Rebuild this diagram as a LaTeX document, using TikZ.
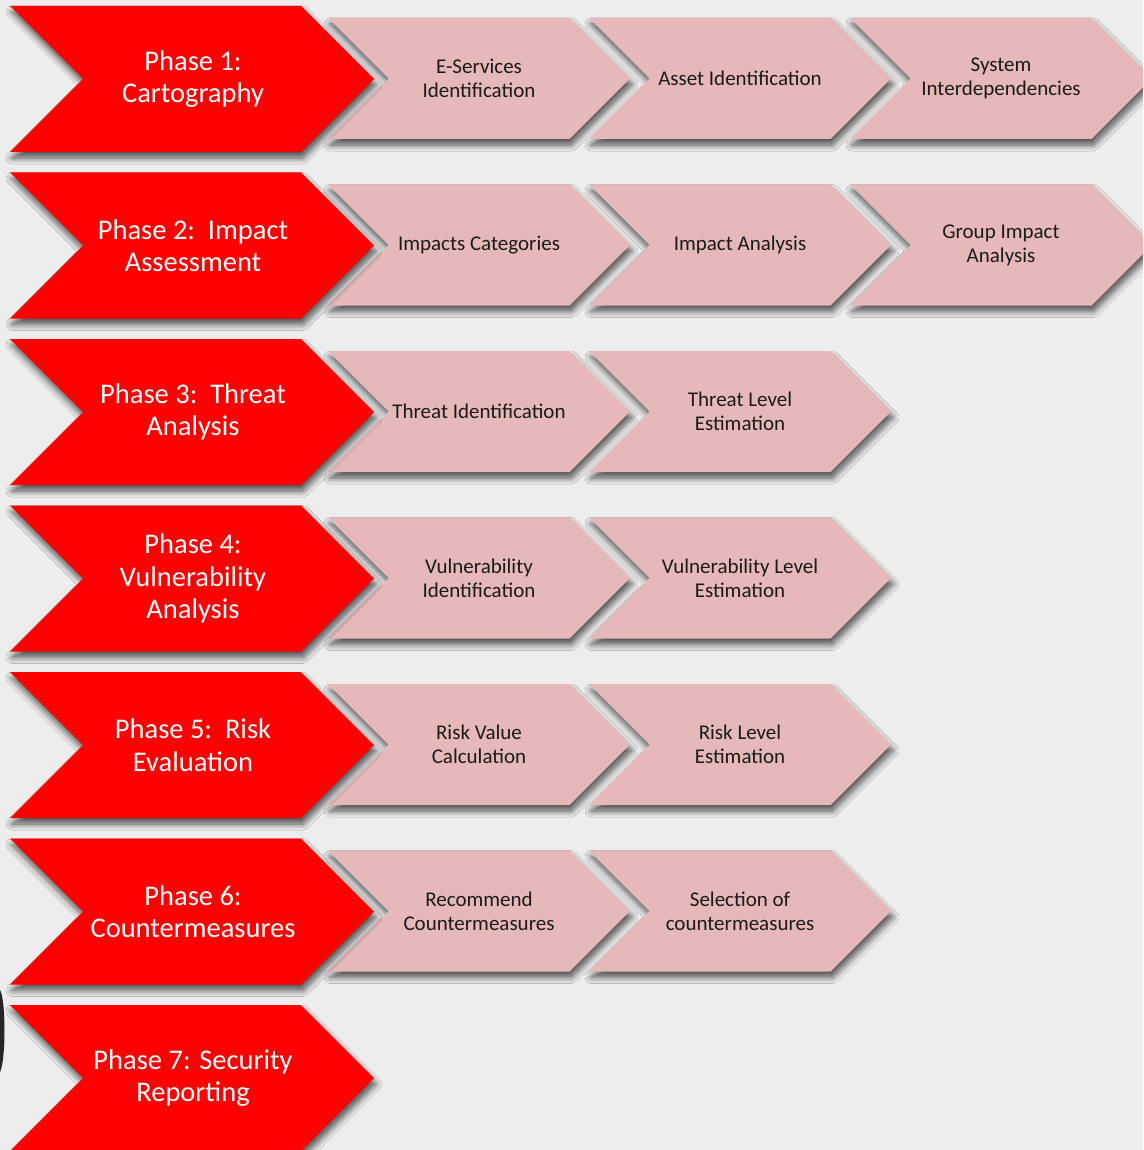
\documentclass[tikz,border=0pt]{standalone}
\usepackage{fontspec}
\setmainfont{Carlito}
\usetikzlibrary{shadows.blur}
\definecolor{bg}{HTML}{EDEDED}
\definecolor{phasered}{HTML}{FF0000}
\definecolor{steppink}{HTML}{E6B9B8}
\definecolor{steptext}{HTML}{1A1A1A}
\tikzset{
  myshadow/.style={blur shadow={shadow xshift=2pt, shadow yshift=-6pt, shadow blur radius=6pt, shadow blur steps=8, shadow opacity=65}},
  phaseshape/.style={fill=phasered, myshadow},
  pinkshape/.style={fill=steppink, myshadow},
  phasetext/.style={text=white, font=\fontsize{28.5}{32.5}\selectfont, align=center, inner sep=0pt},
  steplabel/.style={text=steptext, font=\fontsize{21}{24}\selectfont, align=center, inner sep=0pt},
}
\newcommand\chevpath[4]{(#1,#2) -- ++(#3-#4/2,0) -- ++(#4/2,#4/2) -- ++(-#4/2,#4/2) -- ++(-#3+#4/2,0) -- ++(#4/2,-#4/2) -- cycle}
\begin{document}
\begin{tikzpicture}[x=1pt,y=-1pt]
\useasboundingbox (0,0) rectangle (1143,1150);
\clip (0,0) rectangle (1143,1150);
\fill[bg] (0,0) rectangle (1143,1150);
\fill[black!85] (0,990) .. controls (6,1000) and (6,1060) .. (0,1072) -- cycle;
\foreach \r/\n in {6/0,5/2,4/2,3/2,2/2,1/3,0/3} {
  \pgfmathsetmacro\T{6+166.5*\r}
  \ifnum\n>0
    \foreach \k in {\n,...,1} {
      \pgfmathsetmacro\X{328+261*(\k-1)}
      \path[pinkshape] \chevpath{\X}{\T+12}{302}{121};
    }
  \fi
  \path[phaseshape] \chevpath{10}{\T}{364}{146};
}
% phase labels
\node[phasetext] (ph1) at (193,79) {Phase 1:\\Cartography};
\node[phasetext] (ph2) at (193,245.5) {Phase 2:\ \ Impact\\Assessment};
\node[phasetext] (ph3) at (193,412) {Phase 3:\ \ Threat\\Analysis};
\node[phasetext] (ph4) at (193,578.5) {Phase 4:\\Vulnerability\\Analysis};
\node[phasetext] (ph5) at (193,745) {Phase 5:\ \ Risk\\Evaluation};
\node[phasetext] (ph6) at (193,911.5) {Phase 6:\\Countermeasures};
\node[phasetext] (ph7) at (193,1078) {Phase 7: Security\\Reporting};
% step labels
\node[steplabel] (s11) at (479,78.5) {E-Services\\Identification};
\node[steplabel] (s12) at (740,78.5) {Asset Identification};
\node[steplabel] (s13) at (1001,78.5) {System\\Interdependencies};
\node[steplabel] (s21) at (479,245) {Impacts Categories};
\node[steplabel] (s22) at (740,245) {Impact Analysis};
\node[steplabel] (s23) at (1001,245) {Group Impact\\Analysis};
\node[steplabel] (s31) at (479,411.5) {Threat Identification};
\node[steplabel] (s32) at (740,411.5) {Threat Level\\Estimation};
\node[steplabel] (s41) at (479,578) {Vulnerability\\Identification};
\node[steplabel] (s42) at (740,578) {Vulnerability Level\\Estimation};
\node[steplabel] (s51) at (479,744.5) {Risk Value\\Calculation};
\node[steplabel] (s52) at (740,744.5) {Risk Level\\Estimation};
\node[steplabel] (s61) at (479,911) {Recommend\\Countermeasures};
\node[steplabel] (s62) at (740,911) {Selection of\\countermeasures};
\end{tikzpicture}
\end{document}
